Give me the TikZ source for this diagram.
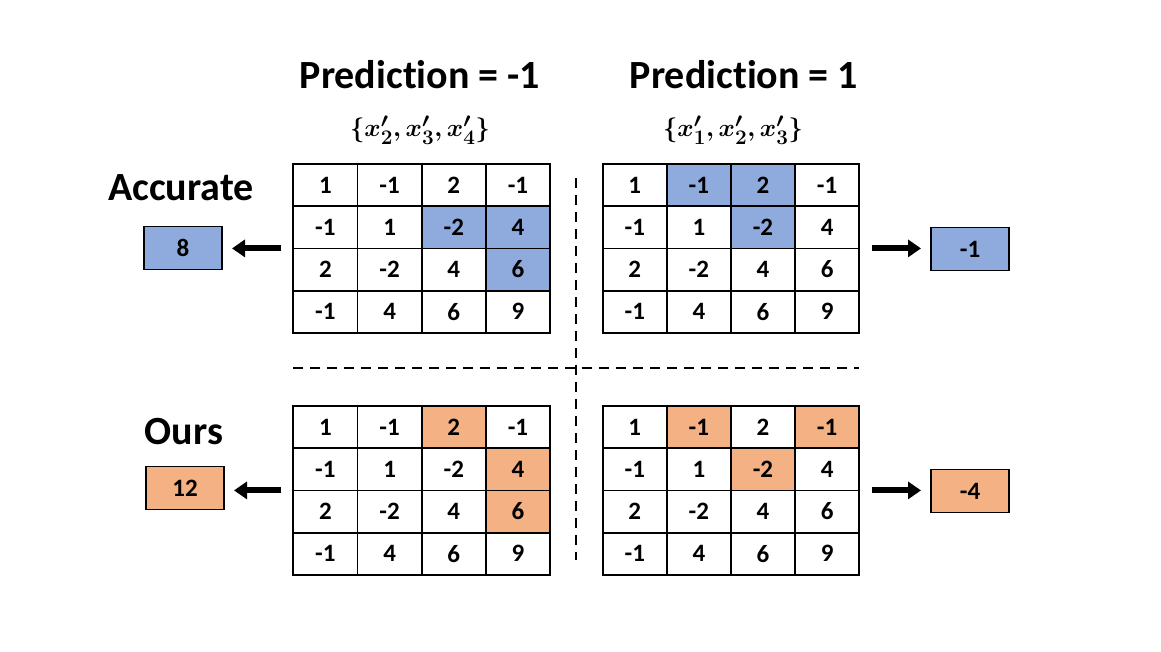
\documentclass[tikz,border=0pt]{standalone}
\usepackage{fontspec}
\setmainfont{Carlito}[Ligatures=CommonOff]
\usetikzlibrary{arrows.meta}

\definecolor{accblue}{RGB}{143,170,220}
\definecolor{oursorange}{RGB}{244,177,131}

\tikzset{
	cell/.style={draw, line width=1.8pt, minimum width=64.2pt, minimum height=42.2pt,
		inner sep=0pt, outer sep=0pt, font=\fontsize{25}{30}\selectfont\bfseries},
	scorebox/.style={draw, line width=1.8pt, minimum width=78pt, minimum height=43pt,
		inner sep=0pt, outer sep=0pt, font=\fontsize{25}{30}\selectfont\bfseries},
	heading/.style={font=\fontsize{40}{48}\selectfont\bfseries},
	subset/.style={font=\fontsize{31}{36}\selectfont\boldmath},
	sepline/.style={dash pattern=on 10pt off 7pt, line width=2pt},
	bigarrow/.style={-{Triangle[length=13pt,width=17pt]}, line width=6pt},
}

\begin{document}
\begin{tikzpicture}[x=1pt, y=-1pt]
	\useasboundingbox (0,0) rectangle (1161,651);

	\node[heading] (predL) at (420,75) {Prediction = -1};
	\node[heading] (predR) at (744,75) {Prediction = 1};
	\node[subset] (setL) at (420,130) {$\{x'_2, x'_3, x'_4\}$};
	\node[subset] (setR) at (733,130) {$\{x'_1, x'_2, x'_3\}$};

	\node[heading] (acc) at (181,188) {Accurate};
	\node[heading] (ours) at (184,432) {Ours};

	% top left grid
	\foreach \v/\f [count=\i from 0] in {1/white,-1/white,2/white,-1/white,
		-1/white,1/white,-2/accblue,4/accblue,
		2/white,-2/white,4/white,6/accblue,
		-1/white,4/white,6/white,9/white}{
		\pgfmathtruncatemacro\r{div(\i,4)+1}
		\pgfmathtruncatemacro\c{mod(\i,4)+1}
		\node[cell, fill=\f] (tl-\r-\c) at ({325.4+64.2*(\c-1)},{185.1+42.2*(\r-1)}) {\v};
	}

	% top right grid
	\foreach \v/\f [count=\i from 0] in {1/white,-1/accblue,2/accblue,-1/white,
		-1/white,1/white,-2/accblue,4/white,
		2/white,-2/white,4/white,6/white,
		-1/white,4/white,6/white,9/white}{
		\pgfmathtruncatemacro\r{div(\i,4)+1}
		\pgfmathtruncatemacro\c{mod(\i,4)+1}
		\node[cell, fill=\f] (tr-\r-\c) at ({634.8+64.1*(\c-1)},{185.1+42.2*(\r-1)}) {\v};
	}

	% bottom left grid
	\foreach \v/\f [count=\i from 0] in {1/white,-1/white,2/oursorange,-1/white,
		-1/white,1/white,-2/white,4/oursorange,
		2/white,-2/white,4/white,6/oursorange,
		-1/white,4/white,6/white,9/white}{
		\pgfmathtruncatemacro\r{div(\i,4)+1}
		\pgfmathtruncatemacro\c{mod(\i,4)+1}
		\node[cell, fill=\f] (bl-\r-\c) at ({325.4+64.2*(\c-1)},{427.1+42.2*(\r-1)}) {\v};
	}

	% bottom right grid
	\foreach \v/\f [count=\i from 0] in {1/white,-1/oursorange,2/white,-1/oursorange,
		-1/white,1/white,-2/oursorange,4/white,
		2/white,-2/white,4/white,6/white,
		-1/white,4/white,6/white,9/white}{
		\pgfmathtruncatemacro\r{div(\i,4)+1}
		\pgfmathtruncatemacro\c{mod(\i,4)+1}
		\node[cell, fill=\f] (br-\r-\c) at ({634.8+64.1*(\c-1)},{427.1+42.2*(\r-1)}) {\v};
	}

	\node[scorebox, fill=accblue] (accL) at (183,248) {8};
	\node[scorebox, fill=accblue] (accR) at (970,249) {-1};
	\node[scorebox, fill=oursorange] (oursL) at (185,488) {12};
	\node[scorebox, fill=oursorange] (oursR) at (970,491) {-4};

	\draw[bigarrow, shorten <=12pt, shorten >=10pt] (tl-2-1.south west) -- (tl-2-1.south west -| accL.east);
	\draw[bigarrow, shorten <=13pt, shorten >=10pt] (tr-2-4.south east) -- (tr-2-4.south east -| accR.west);
	\draw[bigarrow, shorten <=12pt, shorten >=10pt] (bl-2-1.south west) -- (bl-2-1.south west -| oursL.east);
	\draw[bigarrow, shorten <=13pt, shorten >=10pt] (br-2-4.south east) -- (br-2-4.south east -| oursR.west);

	\draw[sepline] (293,368) -- (859,368);
	\draw[sepline] (575.7,178) -- (575.7,560);
\end{tikzpicture}
\end{document}
